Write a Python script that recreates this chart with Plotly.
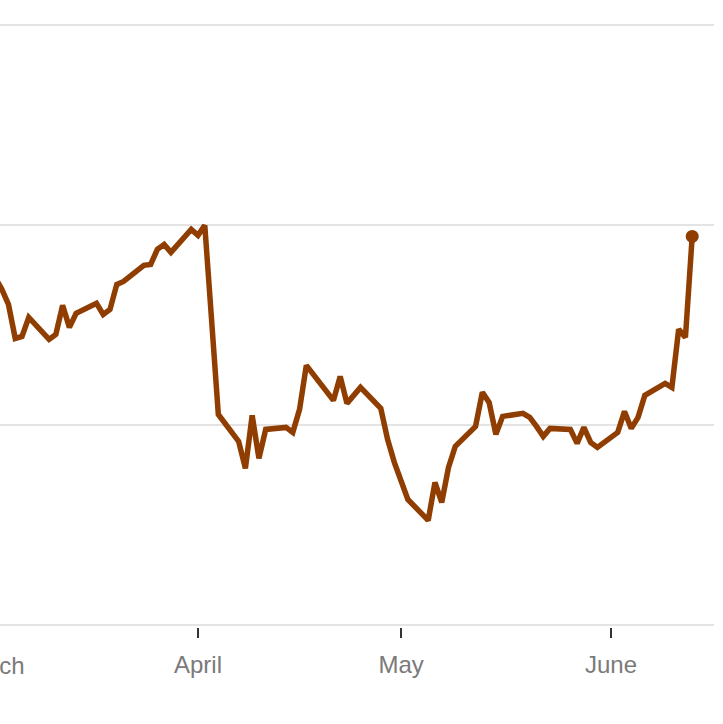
import plotly.graph_objects as go
import pandas as pd

dates = [
    "2025-02-28",
    "2025-03-03", "2025-03-04", "2025-03-05", "2025-03-06", "2025-03-07",
    "2025-03-10", "2025-03-11", "2025-03-12", "2025-03-13", "2025-03-14",
    "2025-03-17", "2025-03-18", "2025-03-19", "2025-03-20", "2025-03-21",
    "2025-03-24", "2025-03-25", "2025-03-26", "2025-03-27", "2025-03-28",
    "2025-03-31", "2025-04-01", "2025-04-02", "2025-04-03", "2025-04-04",
    "2025-04-07", "2025-04-08", "2025-04-09", "2025-04-10", "2025-04-11",
    "2025-04-14", "2025-04-15", "2025-04-16", "2025-04-17",
    "2025-04-21", "2025-04-22", "2025-04-23", "2025-04-24", "2025-04-25",
    "2025-04-28", "2025-04-29", "2025-04-30", "2025-05-01", "2025-05-02",
    "2025-05-05", "2025-05-06", "2025-05-07", "2025-05-08", "2025-05-09",
    "2025-05-12", "2025-05-13", "2025-05-14", "2025-05-15", "2025-05-16",
    "2025-05-19", "2025-05-20", "2025-05-21", "2025-05-22", "2025-05-23",
    "2025-05-26", "2025-05-27", "2025-05-28", "2025-05-29", "2025-05-30",
    "2025-06-02", "2025-06-03", "2025-06-04", "2025-06-05", "2025-06-06",
    "2025-06-09", "2025-06-10", "2025-06-11", "2025-06-12", "2025-06-13",
]

prices = [
    73.6,
    71.8, 71.03, 69.33, 69.43, 70.38,
    69.28, 69.53, 70.98, 69.88, 70.58,
    71.08, 70.53, 70.78, 72.03, 72.18,
    72.98, 73.03, 73.78, 74.03, 73.63,
    74.78, 74.48, 74.98, 70.28, 65.53,
    64.18, 62.83, 65.48, 63.33, 64.78,
    64.88, 64.63, 65.78, 67.98,
    66.23, 67.43, 66.08, 66.48, 66.88,
    65.83, 64.28, 63.13, 62.28, 61.28,
    60.23, 62.13, 61.13, 62.88, 63.93,
    64.93, 66.63, 66.13, 64.53, 65.43,
    65.58, 65.38, 64.93, 64.43, 64.83,
    64.78, 64.08, 64.88, 64.13, 63.88,
    64.63, 65.68, 64.83, 65.38, 66.48,
    67.08, 66.88, 69.78, 69.38, 74.43,
]

month_ticks = ["2025-04-01", "2025-05-01", "2025-06-01"]
month_labels = ["April", "May", "June"]
offscreen_month = "2025-03-01"
offscreen_label = "March"

y_grid = [55, 65, 75, 85]

LINE = "#8f3d00"
FONT = "Liberation Sans"
LABEL = "#7a7a7a"
x_range = ["2025-03-02 18:00", "2025-06-16 05:17"]

fig = go.Figure()
fig.add_trace(go.Scatter(
    x=dates, y=prices, mode="lines",
    line=dict(color=LINE, width=5.5),
    hoverinfo="skip", showlegend=False,
))
fig.add_trace(go.Scatter(
    x=[dates[-1]], y=[prices[-1]], mode="markers",
    marker=dict(color=LINE, size=13),
    hoverinfo="skip", showlegend=False,
))

# position of the off-screen "March" label in paper coordinates
r0 = pd.Timestamp(x_range[0]); r1 = pd.Timestamp(x_range[1])
frac = (pd.Timestamp(offscreen_month) - r0) / (r1 - r0)

fig.update_layout(
    width=723, height=724,
    margin=dict(l=0, r=9, t=23, b=97),
    paper_bgcolor="white", plot_bgcolor="white",
    xaxis=dict(
        range=x_range, type="date",
        tickvals=month_ticks, ticktext=month_labels,
        ticks="outside", ticklen=10, tickwidth=1.5, tickcolor="#333333",
        showgrid=False, zeroline=False, showline=False,
        tickfont=dict(family=FONT, size=24, color=LABEL),
        ticklabelstandoff=6,
    ),
    yaxis=dict(
        range=[54.9, 85.1], tickvals=y_grid,
        showticklabels=False, ticks="",
        showgrid=True, gridcolor="#e4e4e4", gridwidth=2,
        zeroline=False, showline=False,
    ),
    annotations=[dict(
        x=frac, xref="paper", y=0, yref="paper",
        text=offscreen_label, showarrow=False,
        xanchor="center", yanchor="top", yshift=-23, xshift=3,
        font=dict(family=FONT, size=24, color=LABEL),
    )],
)

fig.write_html("out.html", config={"displayModeBar": False},
               post_script="document.body.style.margin='0';")
